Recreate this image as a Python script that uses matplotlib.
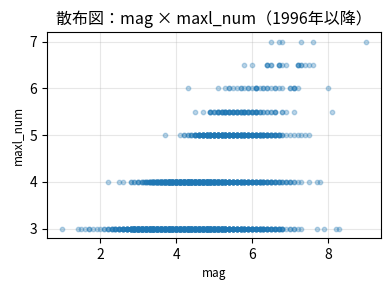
import numpy as np
import matplotlib.pyplot as plt

plt.rcParams['font.family'] = ['Noto Sans CJK JP', 'DejaVu Sans']

# DATA: magnitude values seen on each maxl_num row, and how many points sit on each
mag_7 = [6.5, 6.7, 6.8, 7.3, 7.6, 9.0]
cnt_7 = [1, 1, 1, 1, 1, 1]

mag_65 = [5.8, 6.0, 6.4, 6.5, 6.7, 6.8, 6.9, 7.2, 7.3, 7.4, 7.5, 7.6]
cnt_65 = [1, 1, 3, 2, 3, 1, 1, 3, 2, 1, 1, 1]

mag_6 = [4.3, 5.1, 5.3, 5.4, 5.5, 5.6, 5.7, 5.8, 5.9, 6.0, 6.1, 6.2, 6.3, 6.4,
         6.5, 6.6, 6.7, 6.8, 7.0, 7.1, 7.2, 8.0]
cnt_6 = [1, 1, 1, 2, 1, 1, 2, 1, 2, 1, 4, 1, 2, 2,
         1, 2, 1, 1, 2, 3, 1, 1]

mag_55 = [4.5, 4.7, 4.9, 5.0, 5.1, 5.2, 5.3, 5.4, 5.5, 5.6, 5.7, 5.8, 5.9, 6.0,
          6.1, 6.2, 6.3, 6.4, 6.5, 6.6, 6.8, 6.9, 7.1, 8.1]
cnt_55 = [1, 1, 4, 3, 5, 5, 6, 6, 6, 6, 5, 6, 5, 5,
          6, 3, 2, 2, 2, 3, 2, 1, 1, 1]

mag_5 = [3.7, 4.1, 4.2, 4.3, 4.4, 4.5, 4.6, 4.7, 4.8, 4.9, 5.0, 5.1, 5.2, 5.3,
         5.4, 5.5, 5.6, 5.7, 5.8, 5.9, 6.0, 6.1, 6.2, 6.3, 6.4, 6.5, 6.6, 6.7,
         6.8, 6.9, 7.0, 7.1, 7.2, 7.3, 7.4, 7.5]
cnt_5 = [1, 1, 2, 2, 3, 6, 10, 12, 14, 15, 16, 16, 15, 15,
         14, 14, 13, 12, 12, 11, 10, 10, 9, 8, 8, 6, 6, 5,
         2, 1, 1, 1, 1, 1, 1, 1]

# level 4 and 3 rows are packed: half-step magnitudes fill the gaps there
mag_4 = [2.2, 2.5, 2.6, 2.8, 2.9, 3.0, 3.1, 3.15, 3.2, 3.25, 3.3, 3.35, 3.4, 3.45,
         3.5, 3.55, 3.6, 3.65, 3.7, 3.75, 3.8, 3.85, 3.9, 3.95, 4.0, 4.05, 4.1,
         4.15, 4.2, 4.25, 4.3, 4.35, 4.4, 4.45, 4.5, 4.55, 4.6, 4.65, 4.7, 4.75,
         4.8, 4.85, 4.9, 4.95, 5.0, 5.05, 5.1, 5.15, 5.2, 5.3, 5.4, 5.5, 5.6,
         5.7, 5.8, 5.9, 6.0, 6.1, 6.2, 6.3, 6.4, 6.5, 6.6, 6.7, 6.8, 6.9, 7.0,
         7.1, 7.2, 7.3, 7.5, 7.7, 7.8]
cnt_4 = [1, 1, 1, 2, 2, 3, 3, 2, 4, 2, 6, 3, 8, 4,
         10, 5, 12, 6, 14, 6, 16, 6, 18, 6, 20, 6, 20,
         6, 20, 6, 20, 6, 20, 6, 20, 6, 20, 6, 20, 6,
         18, 6, 18, 6, 18, 5, 16, 4, 16, 15, 14, 12, 12,
         11, 10, 10, 9, 8, 8, 7, 6, 6, 5, 4, 3, 3, 3,
         2, 1, 1, 1, 1, 1]

mag_3 = [1.0, 1.4, 1.5, 1.6, 1.7, 1.8, 1.9, 2.0, 2.1, 2.2, 2.3, 2.4, 2.5, 2.6,
         2.7, 2.8, 2.85, 2.9, 2.95, 3.0, 3.05, 3.1, 3.15, 3.2, 3.25, 3.3, 3.35,
         3.4, 3.45, 3.5, 3.55, 3.6, 3.65, 3.7, 3.75, 3.8, 3.85, 3.9, 3.95, 4.0,
         4.05, 4.1, 4.15, 4.2, 4.25, 4.3, 4.35, 4.4, 4.45, 4.5, 4.55, 4.6, 4.65,
         4.7, 4.75, 4.8, 4.85, 4.9, 4.95, 5.0, 5.05, 5.1, 5.15, 5.2, 5.25, 5.3,
         5.4, 5.5, 5.6, 5.7, 5.8, 5.9, 6.0, 6.1, 6.2, 6.3, 6.4, 6.5, 6.6, 6.7,
         6.8, 6.9, 7.0, 7.1, 7.2, 7.3, 7.7, 7.9, 8.2, 8.3]
cnt_3 = [1, 1, 1, 1, 2, 1, 1, 1, 2, 3, 4, 5, 6, 8,
         10, 14, 6, 18, 6, 20, 6, 20, 6, 20, 6, 20, 6,
         20, 6, 20, 6, 20, 6, 20, 6, 20, 6, 20, 6, 20,
         6, 20, 6, 20, 6, 20, 6, 20, 6, 20, 6, 20, 6,
         20, 6, 20, 6, 20, 6, 20, 6, 18, 5, 18, 4, 16,
         15, 14, 12, 12, 11, 10, 10, 9, 8, 8, 7, 6, 6, 5,
         4, 1, 2, 2, 1, 1, 1, 1, 1, 1]

levels = [7, 6.5, 6, 5.5, 5, 4, 3]
mags = [mag_7, mag_65, mag_6, mag_55, mag_5, mag_4, mag_3]
cnts = [cnt_7, cnt_65, cnt_6, cnt_55, cnt_5, cnt_4, cnt_3]

x = []
y = []
for lv, m, c in zip(levels, mags, cnts):
    x.extend(np.repeat(m, c))
    y.extend([lv] * sum(c))

# PLOT
fig = plt.figure(figsize=(3.9, 2.89), dpi=100)
ax = fig.add_axes([0.121, 0.177, 0.856, 0.711])
ax.scatter(x, y, s=10, alpha=0.3, color='#1f77b4')
ax.set_yticks([3, 4, 5, 6, 7])
ax.set_xticks([2, 4, 6, 8])
ax.grid(alpha=0.3)
ax.set_axisbelow(True)
ax.set_title('散布図：mag × maxl_num（1996年以降）', fontsize=11.5)
ax.set_xlabel('mag', fontsize=8.5)
ax.set_ylabel('maxl_num', fontsize=8.5)
ax.tick_params(labelsize=10)
fig.savefig('out.png', dpi=100)
